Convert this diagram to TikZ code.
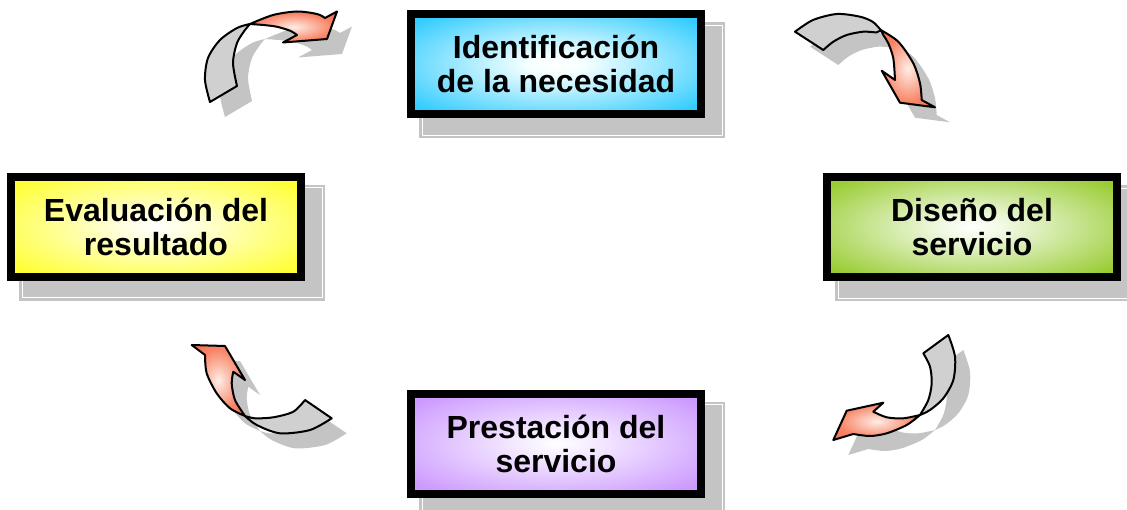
\documentclass[tikz,border=0pt]{standalone}
\usepackage{fontspec}
\setmainfont{Liberation Sans}
\usetikzlibrary{backgrounds}
\definecolor{tailgray}{RGB}{208,208,208}
\definecolor{shadowgray}{RGB}{196,196,196}
\pgfdeclareradialshading{glowcyan}{\pgfpoint{0bp}{0bp}}{rgb(0bp)=(1,1,1);rgb(5bp)=(0.96,1,1);rgb(32bp)=(0.2,0.8,1);rgb(75bp)=(0.2,0.8,1)}
\pgfdeclareradialshading{glowyellow}{\pgfpoint{0bp}{0bp}}{rgb(0bp)=(1,1,1);rgb(5bp)=(1,1,0.9);rgb(32bp)=(1,1,0.2);rgb(75bp)=(1,1,0.2)}
\pgfdeclareradialshading{glowgreen}{\pgfpoint{0bp}{0bp}}{rgb(0bp)=(1,1,1);rgb(5bp)=(0.95,0.98,0.9);rgb(32bp)=(0.6,0.8,0.2);rgb(75bp)=(0.6,0.8,0.2)}
\pgfdeclareradialshading{glowpurple}{\pgfpoint{0bp}{0bp}}{rgb(0bp)=(1,1,1);rgb(5bp)=(0.97,0.94,1);rgb(32bp)=(0.8,0.6,1);rgb(75bp)=(0.8,0.6,1)}
\pgfdeclareradialshading{redglow}{\pgfpoint{0bp}{0bp}}{rgb(0bp)=(1,0.93,0.9);rgb(22bp)=(0.97,0.52,0.4);rgb(45bp)=(0.94,0.38,0.24);rgb(75bp)=(0.94,0.38,0.24)}
% arrow outlines (pixel coordinates)
\newcommand\arrAgray{plot[smooth] coordinates {(210,102) (205,80) (208,58) (220,40) (237,28) (250,24)} -- plot[smooth] coordinates {(250,24) (245,30) (237,43) (233,63) (237,86)} -- cycle}
\newcommand\arrAred{plot[smooth] coordinates {(250,24) (273,15) (297,11.5) (317,14) (325,18)} -- (337,11.5) -- (327,39) -- (283,42.5) -- plot[smooth] coordinates {(297,35) (290,30.7) (276.7,26.7) (263.3,25) (250,24)} -- cycle}
\newcommand\arrBgray{plot[smooth] coordinates {(795,31.7) (813,20) (837,14) (860,16.7) (873,22) (880.7,30)} -- plot[smooth] coordinates {(880.7,30) (876.7,32.3) (863.3,31.7) (846.7,35) (833.3,41.7) (823.3,50)} -- cycle}
\newcommand\arrBred{plot[smooth] coordinates {(880.7,30) (898.3,41.7) (913.3,63.3) (920,83.3) (921.7,100)} -- (935,107.3) -- (900,102.7) -- (881.7,70.7) -- plot[smooth] coordinates {(895,80) (893.3,58.3) (888.3,43.3) (883.3,35) (880.7,30)} -- cycle}
\newcommand\arrCgray{plot[smooth] coordinates {(305,400) (293.3,411.7) (273.3,417.3) (255,418.3) (245,416)} -- plot[smooth] coordinates {(245,416) (256.7,425) (280,433.3) (310,430) (331.7,418.3)} -- cycle}
\newcommand\arrCred{plot[smooth] coordinates {(245,416) (230,408.3) (216.7,393.3) (206.7,373.3) (205,355)} -- (191.7,345) -- (225,346) -- (245,380) -- plot[smooth] coordinates {(233.3,371.7) (231.7,383.3) (235,400) (245,416)} -- cycle}
\newcommand\arrDgray{plot[smooth] coordinates {(923.3,353.3) (930,366.7) (931.7,383.3) (928.3,400) (920,415)} -- plot[smooth] coordinates {(920,415) (930,410) (943.3,398.3) (953.3,380) (955,356.7) (948.3,335)} -- cycle}
\newcommand\arrDred{plot[smooth] coordinates {(920,415) (906.7,425) (886.7,433.3) (870,436) (853.3,434)} -- (833.3,440) -- (846.7,410.7) -- (883.3,402.7) -- plot[smooth] coordinates {(873.3,411.7) (886.7,417.3) (903.3,418.3) (920,415)} -- cycle}
\begin{document}
\begin{tikzpicture}[x=0.75pt,y=-0.75pt,
  stepbox/.style={draw=black,line width=6pt,minimum width=217.5pt,minimum height=75pt,
    align=center,inner sep=0pt,shade,font=\fontsize{24}{25.5}\selectfont\bfseries},
  boxshadow/.style={fill=shadowgray},
  shadowline/.style={draw=white,line width=0.6pt},
  arrowgray/.style={fill=tailgray,draw=black,line width=1.5pt,line join=round},
  arrowred/.style={shade,shading=redglow,draw=black,line width=1.5pt,line join=round},
  arrowshadow/.style={fill=shadowgray}]
\useasboundingbox (0,0) rectangle (1127,510);
% boxes
\node[stepbox,shading=glowcyan] (ident) at (556,64) {Identificación\\de la necesidad};
\node[stepbox,shading=glowyellow] (eval) at (156,226.5) {Evaluación del\\resultado};
\node[stepbox,shading=glowgreen] (dise) at (972,227) {Diseño del\\servicio};
\node[stepbox,shading=glowpurple] (prest) at (556,443.5) {Prestación del\\servicio};
\begin{scope}[on background layer]
  \foreach \b in {ident,eval,dise,prest}{
    \fill[boxshadow] ([shift={(12,12)}]\b.north west) rectangle ([shift={(20,20)}]\b.south east);
    \draw[shadowline] ([shift={(15,15)}]\b.north west) rectangle ([shift={(17,17)}]\b.south east);
  }
\end{scope}
% arrow shadows
\begin{scope}[shift={(15,15)}]
  \fill[arrowshadow] \arrAgray; \fill[arrowshadow] \arrAred;
  \fill[arrowshadow] \arrBgray; \fill[arrowshadow] \arrBred;
  \fill[arrowshadow] \arrCgray; \fill[arrowshadow] \arrCred;
  \fill[arrowshadow] \arrDgray; \fill[arrowshadow] \arrDred;
\end{scope}
% arrows
\path[arrowgray] \arrAgray; \path[arrowred] \arrAred;
\path[arrowgray] \arrBgray; \path[arrowred] \arrBred;
\path[arrowgray] \arrCgray; \path[arrowred] \arrCred;
\path[arrowgray] \arrDgray; \path[arrowred] \arrDred;
\end{tikzpicture}
\end{document}
